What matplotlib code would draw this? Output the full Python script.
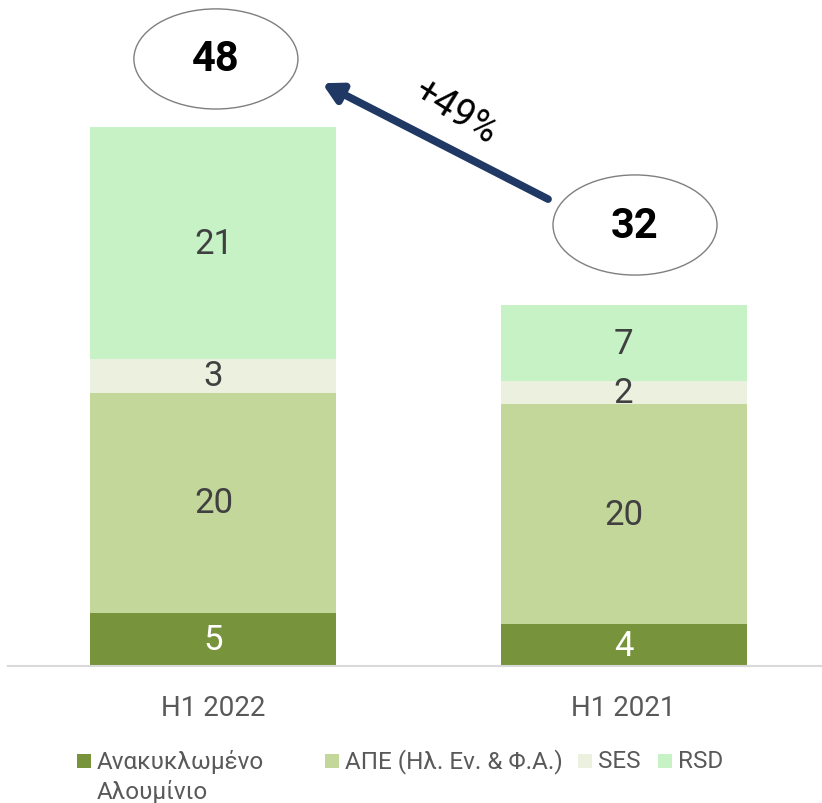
import matplotlib
matplotlib.use("Agg")
import matplotlib.pyplot as plt
from matplotlib.patches import Ellipse, Rectangle

plt.rcParams['font.family'] = ['Roboto', 'DejaVu Sans']

categories = ["H1 2022", "H1 2021"]
series_names = ["Ανακυκλωμένο", "ΑΠΕ (Ηλ. Εν. & Φ.Α.)", "SES", "RSD"]
series_name_line2 = "Αλουμίνιο"
recycled_al = [4.7, 3.7]
res = [19.6, 19.6]
ses = [3.0, 2.0]
rsd = [20.6, 6.8]
label_recycled = ["5", "4"]
label_res = ["20", "20"]
label_ses = ["3", "2"]
label_rsd = ["21", "7"]
totals = ["48", "32"]
growth = "+49%"

colors = ["#77933C", "#C4D79B", "#EBF1DE", "#C6F2C6"]
text_colors = ["white", "#404040", "#404040", "#404040"]

W, H = 822, 804
fig = plt.figure(figsize=(W / 100, H / 100), dpi=100)
ax = fig.add_axes([8 / W, (H - 667) / H, 1 - 8 / W, 667 / H])

x = list(range(len(categories)))
series = [recycled_al, res, ses, rsd]
labels = [label_recycled, label_res, label_ses, label_rsd]
bottom = [0.0] * len(categories)
for vals, labs, c, tc in zip(series, labels, colors, text_colors):
    ax.bar(x, vals, width=0.6, bottom=bottom, color=c, zorder=2)
    for xi, v, b, lab in zip(x, vals, bottom, labs):
        ax.text(xi, b + v / 2, lab, ha='center', va='center', fontsize=25,
                color=tc, zorder=3)
    bottom = [b + v for b, v in zip(bottom, vals)]

ax.set_xlim(-0.501, 1.484)
ax.set_ylim(0, 667 / 11.25)
ax.set_xticks(x)
ax.set_xticklabels(categories, fontsize=20, color="#595959")
ax.tick_params(axis='x', length=0, pad=20)
ax.set_yticks([])
for s in ['top', 'right', 'left']:
    ax.spines[s].set_visible(False)
ax.spines['bottom'].set_color("#D9D9D9")
ax.spines['bottom'].set_linewidth(1.5)

# total ellipses
ell_pos = [(0.006, 53.96), (1.028, 39.2)]
for (ex, ey), t in zip(ell_pos, totals):
    e = Ellipse((ex, ey), 0.40, 8.9, facecolor='white', edgecolor='#7F7F7F',
                linewidth=1.0, zorder=4)
    ax.add_patch(e)
    ax.text(ex, ey, t, ha='center', va='center', fontsize=30,
            fontweight='bold', color='black', zorder=5)

# growth arrow
ax.annotate("", xy=(0.265, 51.8), xytext=(0.816, 41.5),
            arrowprops=dict(arrowstyle='-|>,head_length=1.1,head_width=0.6',
                            color='#1F3864', lw=5.5, shrinkA=0, shrinkB=0),
            zorder=4)
ax.text(0.59, 49.3, growth, ha='center', va='center', fontsize=27,
        rotation=-32, color='black', zorder=5)

# legend (manual)
leg_x = [77, 325, 578, 658]
ly = 762
for lx, name, c in zip(leg_x, series_names, colors):
    fig.patches.append(Rectangle((lx / W, (H - ly - 7) / H), 14 / W, 14 / H,
                                 transform=fig.transFigure, facecolor=c,
                                 edgecolor='none'))
    fig.text((lx + 20) / W, (H - ly) / H, name, ha='left', va='center',
             fontsize=17.5, color="#595959")
fig.text((leg_x[0] + 20) / W, (H - ly - 30) / H, series_name_line2, ha='left',
         va='center', fontsize=17.5, color="#595959")

fig.savefig("out.png", dpi=100)
